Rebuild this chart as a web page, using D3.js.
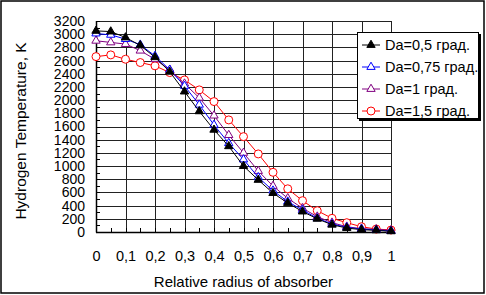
<!DOCTYPE html>
<html>
<head>
<meta charset="utf-8">
<script src="https://cdn.jsdelivr.net/npm/d3@7"></script>
<style>
  body { margin: 0; background: #fff; }
  text { font-family: "Liberation Sans", Arial, sans-serif; fill: #000; }
</style>
</head>
<body>
<div id="chart-area"></div>
<script>
// Data
// ****
const radius = [0, 0.05, 0.1, 0.15, 0.2, 0.25, 0.3, 0.35, 0.4, 0.45, 0.5,
  0.55, 0.6, 0.65, 0.7, 0.75, 0.8, 0.85, 0.9, 0.95, 1]
const da05 = [3050, 3040, 2950, 2830, 2650, 2430, 2130, 1830, 1550, 1300, 1000,
  790, 590, 440, 310, 200, 110, 60, 35, 25, 10]
const da075 = [3010, 2990, 2925, 2840, 2670, 2460, 2215, 1930, 1624, 1347, 1100,
  830, 627, 460, 334, 208, 121, 71, 45, 30, 15]
const da1 = [2900, 2875, 2850, 2750, 2620, 2460, 2250, 2035, 1765, 1470, 1200,
  925, 698, 511, 360, 233, 141, 80, 50, 40, 25]
const da15 = [2660, 2686, 2620, 2570, 2520, 2418, 2306, 2155, 1978, 1700, 1446,
  1184, 905, 655, 475, 323, 208, 141, 80, 45, 30]
const seriesNames = ["Da=0,5 град.", "Da=0,75 град.", "Da=1 град.", "Da=1,5 град."]
const xTicks = [0, 0.1, 0.2, 0.3, 0.4, 0.5, 0.6, 0.7, 0.8, 0.9, 1]
const yTicks = d3.range(0, 3201, 200)

// Config
// ******
const W = 486, H = 295
const margin = {top: 21, left: 96}
const width = 295, height = 211

const series = [
  {name: seriesNames[0], values: da05, color: "#000000", mark: "tri", fill: "#000000"},
  {name: seriesNames[1], values: da075, color: "#0000ff", mark: "tri", fill: "#ffffff"},
  {name: seriesNames[2], values: da1, color: "#800080", mark: "tri", fill: "#ffffff"},
  {name: seriesNames[3], values: da15, color: "#ff0000", mark: "circle", fill: "#ffffff"}
]

const svg = d3.select("#chart-area")
  .append("svg")
    .attr("width", W)
    .attr("height", H)

// outer frame
svg.append("rect")
  .attr("x", 1).attr("y", 1)
  .attr("width", W - 3).attr("height", H - 3)
  .attr("fill", "#fff").attr("stroke", "#000").attr("stroke-width", 1.5)

const g = svg.append("g")
  .attr("transform", "translate(" + margin.left + ", " + margin.top + ")")

const x = d3.scaleLinear().domain([0, 1]).range([0, width])
const y = d3.scaleLinear().domain([0, 3200]).range([height, 0])

// Grid
// ****
g.append("g").selectAll("line").data(yTicks.slice(1)).enter().append("line")
  .attr("x1", 0).attr("x2", width)
  .attr("y1", d => Math.round(y(d)) + 0.5).attr("y2", d => Math.round(y(d)) + 0.5)
  .attr("stroke", "#222").attr("stroke-width", 1)

g.append("g").selectAll("line").data(xTicks.slice(1)).enter().append("line")
  .attr("x1", d => Math.round(x(d)) + 0.5).attr("x2", d => Math.round(x(d)) + 0.5)
  .attr("y1", 0).attr("y2", height)
  .attr("stroke", "#222").attr("stroke-width", 1)

// Axes
// ****
const yAxis = d3.axisLeft(y).tickValues(yTicks).tickSize(0).tickPadding(11)
  .tickFormat(d => String(d))
const yAxisG = g.append("g").call(yAxis)
yAxisG.select(".domain").remove()
yAxisG.selectAll("text").style("font-size", "14px")

const xAxis = d3.axisBottom(x).tickValues(xTicks).tickSize(0).tickPadding(19)
  .tickFormat(d => String(d).replace(".", ","))
const xAxisG = g.append("g").attr("transform", "translate(0, " + height + ")").call(xAxis)
xAxisG.select(".domain").remove()
xAxisG.selectAll("text").style("font-size", "14.5px")

// inner ticks
g.append("g").selectAll("line").data(d3.range(0, 3201, 100)).enter().append("line")
  .attr("x1", 0).attr("x2", 4)
  .attr("y1", d => Math.round(y(d)) + 0.5).attr("y2", d => Math.round(y(d)) + 0.5)
  .attr("stroke", "#000")
g.append("g").selectAll("line").data(radius).enter().append("line")
  .attr("x1", d => Math.round(x(d)) + 0.5).attr("x2", d => Math.round(x(d)) + 0.5)
  .attr("y1", height).attr("y2", height - 4)
  .attr("stroke", "#000")

g.append("line")
  .attr("x1", 0.5).attr("x2", 0.5).attr("y1", 0).attr("y2", height + 0.5)
  .attr("stroke", "#000").attr("stroke-width", 1.5)
g.append("line")
  .attr("x1", 0).attr("x2", width).attr("y1", height + 0.5).attr("y2", height + 0.5)
  .attr("stroke", "#000").attr("stroke-width", 1.5)

// Labels
svg.append("text")
  .attr("x", margin.left + width / 2).attr("y", 287)
  .attr("text-anchor", "middle").style("font-size", "15px")
  .text("Relative radius of absorber")

svg.append("text")
  .attr("transform", "translate(26, 131) rotate(-90)")
  .attr("text-anchor", "middle").style("font-size", "15.5px")
  .text("Hydrogen Temperature, K")

// Marks
// *****
const tri = d3.symbol().type(d3.symbolTriangle).size(30)

function drawMark(sel, s) {
  if (s.mark === "tri") {
    sel.append("path").attr("d", tri)
      .attr("fill", s.fill).attr("stroke", s.color).attr("stroke-width", 1)
  } else {
    sel.append("circle").attr("r", 4)
      .attr("fill", s.fill).attr("stroke", s.color).attr("stroke-width", 1)
  }
}

const line = d3.line().x((d, i) => x(radius[i])).y(d => y(d))

series.slice().reverse().forEach(s => {
  g.append("path").datum(s.values)
    .attr("fill", "none").attr("stroke", s.color).attr("stroke-width", 1)
    .attr("d", line)
  s.values.forEach((v, i) => {
    const m = g.append("g").attr("transform", "translate(" + x(radius[i]) + "," + y(v) + ")")
    drawMark(m, s)
  })
})

// Legend
// ******
const lg = svg.append("g").attr("transform", "translate(357, 32)")
lg.append("rect").attr("x", 2).attr("y", 2).attr("width", 122).attr("height", 87).attr("fill", "#000")
lg.append("rect").attr("x", 0.5).attr("y", 0.5).attr("width", 121).attr("height", 86)
  .attr("fill", "#fff").attr("stroke", "#000")

series.forEach((s, i) => {
  const row = lg.append("g").attr("transform", "translate(0, " + (13 + i * 22) + ")")
  row.append("line").attr("x1", 5).attr("x2", 23).attr("y1", 0).attr("y2", 0)
    .attr("stroke", s.color)
  const m = row.append("g").attr("transform", "translate(14, 0)")
  drawMark(m, s)
  row.append("text").attr("x", 28).attr("y", 5)
    .style("font-size", "14.5px").text(s.name)
})
</script>
</body>
</html>
